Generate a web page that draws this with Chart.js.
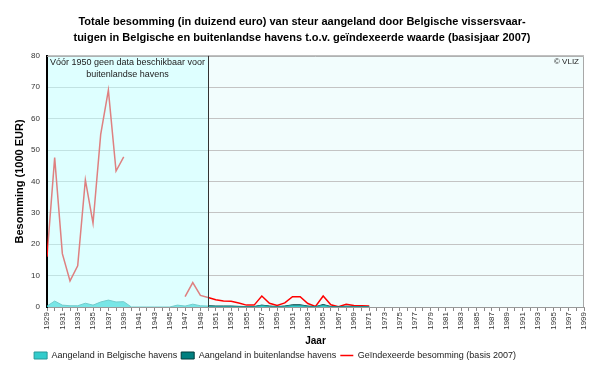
<!DOCTYPE html>
<html>
<head>
<meta charset="utf-8">
<script src="https://cdn.jsdelivr.net/npm/chart.js@4.4.0/dist/chart.umd.min.js"></script>
<style>
  html, body { margin: 0; padding: 0; background: #fff; }
</style>
</head>
<body>
<canvas id="myChart" width="600" height="368"></canvas>
<script>
// Data

let years = [
  1929, 1930, 1931, 1932, 1933, 1934, 1935, 1936, 1937, 1938, 1939, 1940,
  1941, 1942, 1943, 1944, 1945, 1946, 1947, 1948, 1949, 1950, 1951, 1952,
  1953, 1954, 1955, 1956, 1957, 1958, 1959, 1960, 1961, 1962, 1963, 1964,
  1965, 1966, 1967, 1968, 1969, 1970, 1971, 1972, 1973, 1974, 1975, 1976,
  1977, 1978, 1979, 1980, 1981, 1982, 1983, 1984, 1985, 1986, 1987, 1988,
  1989, 1990, 1991, 1992, 1993, 1994, 1995, 1996, 1997, 1998, 1999,
];

// Aangeland in Belgische havens (1000 EUR)
let belgischeHavens = [
  0.3, 1.9, 0.6, 0.4, 0.4, 1.2, 0.6, 1.6, 2.2, 1.6, 1.7, 0,
  0, 0, 0, 0, 0, 0.6, 0.3, 0.9, 0.4, 0.3, 0.2, 0.2,
  0.2, 0.1, 0.1, 0.1, 0.5, 0.2, 0.1, 0.2, 0.5, 0.5, 0.2, 0.05,
  0.6, 0.1, 0.02, 0.15, 0.1, 0.08, 0.05, null, null, null, null, null,
  null, null, null, null, null, null, null, null, null, null, null, null,
  null, null, null, null, null, null, null, null, null, null, null,
];

// Aangeland in buitenlandse havens (1000 EUR), geen data voor 1950
let buitenlandseHavens = [
  null, null, null, null, null, null, null, null, null, null, null, null,
  null, null, null, null, null, null, null, null, null, 0.1, 0.1, 0.1,
  0.1, 0.1, 0.05, 0.05, 0.1, 0.1, 0.05, 0.1, 0.2, 0.2, 0.1, 0.05,
  0.2, 0.05, 0.02, 0.1, 0.05, 0.05, 0.05, null, null, null, null, null,
  null, null, null, null, null, null, null, null, null, null, null, null,
  null, null, null, null, null, null, null, null, null, null, null,
];

// Geindexeerde besomming (basis 2007)
let geindexeerd = [
  16, 47.6, 17, 8.3, 13.1, 40.5, 26.7, 55, 69.1, 43.3, 47.8, null,
  null, null, null, null, null, null, 3.3, 7.8, 3.7, 3.0, 2.3, 1.9,
  1.8, 1.3, 0.6, 0.6, 3.5, 1.2, 0.5, 1.3, 3.3, 3.3, 1.1, 0.2,
  3.5, 0.7, 0.1, 0.9, 0.5, 0.4, 0.3, null, null, null, null, null,
  null, null, null, null, null, null, null, null, null, null, null, null,
  null, null, null, null, null, null, null, null, null, null, null,
];

let grensJaar = 1950;

let fontFamily = '"Liberation Sans", Arial, sans-serif';

// Background, shading before 1950 and notes

let plotBackground = {
  id: 'plotBackground',
  afterLayout(chart) {
    // legend a bit left of centre, title a bit right, as in the original
    chart.legend.left -= 17;
    chart.legend.right -= 17;
    chart.titleBlock.left += 10;
    chart.titleBlock.right += 10;
  },
  beforeDraw(chart) {
    let c = chart.ctx;
    let a = chart.chartArea;
    let split = chart.scales.x.getPixelForValue(grensJaar);
    c.save();
    c.fillStyle = '#ffffff';
    c.fillRect(a.left, a.top, split - a.left, a.bottom - a.top);
    c.fillStyle = '#f2fdfd';
    c.fillRect(split, a.top, a.right - split, a.bottom - a.top);
    c.restore();
  },
  afterDatasetsDraw(chart) {
    let c = chart.ctx;
    let a = chart.chartArea;
    let split = chart.scales.x.getPixelForValue(grensJaar);
    c.save();
    // light cyan veil over the years without foreign data
    c.fillStyle = 'rgba(190, 255, 255, 0.5)';
    c.fillRect(a.left + 1, a.top, split - a.left - 1, a.bottom - a.top);
    // border
    c.strokeStyle = '#a8a8a8';
    c.lineWidth = 1;
    c.beginPath();
    c.moveTo(a.left, a.top + 0.5);
    c.lineTo(a.right - 0.5, a.top + 0.5);
    c.lineTo(a.right - 0.5, a.bottom);
    c.stroke();
    // line at 1950
    c.strokeStyle = '#333333';
    c.beginPath();
    c.moveTo(Math.round(split) + 0.5, a.top);
    c.lineTo(Math.round(split) + 0.5, a.bottom);
    c.stroke();
    c.restore();
  },
  afterDraw(chart) {
    let c = chart.ctx;
    let a = chart.chartArea;
    let split = chart.scales.x.getPixelForValue(grensJaar);
    c.save();
    c.fillStyle = '#222222';
    c.font = '9px ' + fontFamily;
    c.textAlign = 'center';
    c.textBaseline = 'middle';
    c.fillText('Vóór 1950 geen data beschikbaar voor', (a.left + split) / 2, a.top + 7);
    c.fillText('buitenlandse havens', (a.left + split) / 2, a.top + 19);
    c.font = '8px ' + fontFamily;
    c.textAlign = 'right';
    c.fillText('© VLIZ', a.right - 5, a.top + 6);
    c.restore();
  },
};

let ctx = document.getElementById('myChart').getContext('2d');
let myChart = new Chart(ctx, {
  type: 'line',
  data: {
    labels: years,
    datasets: [
      {
        label: 'Aangeland in Belgische havens',
        data: belgischeHavens,
        stack: 'aanvoer',
        fill: 'origin',
        backgroundColor: '#33cccc',
        borderColor: '#269999',
        borderWidth: 1,
        pointRadius: 0,
        pointStyle: 'rect',
        tension: 0,
      },
      {
        label: 'Aangeland in buitenlandse havens',
        data: buitenlandseHavens,
        stack: 'aanvoer',
        fill: '-1',
        backgroundColor: '#008080',
        borderColor: '#003c3c',
        borderWidth: 1,
        pointRadius: 0,
        pointStyle: 'rect',
        tension: 0,
      },
      {
        label: 'Geïndexeerde besomming (basis 2007)',
        data: geindexeerd,
        stack: 'index',
        fill: false,
        borderColor: '#ff0000',
        backgroundColor: '#ff0000',
        borderWidth: 1.5,
        pointRadius: 0,
        pointStyle: 'line',
        spanGaps: false,
        tension: 0,
      },
    ],
  },
  options: {
    responsive: false,
    animation: false,
    layout: { padding: { left: 0, right: 16, top: 0, bottom: -2 } },
    plugins: {
      title: {
        display: true,
        text: [
          'Totale besomming (in duizend euro) van steur aangeland door Belgische vissersvaar-',
          'tuigen in Belgische en buitenlandse havens t.o.v. geïndexeerde waarde (basisjaar 2007)',
        ],
        color: '#000',
        font: { family: fontFamily, size: 11, weight: 'bold', lineHeight: 1.45 },
        padding: { top: 14, bottom: 10 },
      },
      legend: {
        position: 'bottom',
        labels: {
          usePointStyle: true,
          pointStyleWidth: 13,
          boxHeight: 7,
          padding: 4,
          color: '#222',
          font: { family: fontFamily, size: 9 },
        },
      },
      tooltip: { enabled: false },
    },
    scales: {
      x: {
        type: 'linear',
        min: 1929,
        max: 1999,
        ticks: {
          stepSize: 1,
          autoSkip: false,
          minRotation: 90,
          maxRotation: 90,
          padding: 1,
          color: '#333',
          font: { family: fontFamily, size: 8 },
          callback: (v) => ((v - 1929) % 2 === 0 ? String(v) : ''),
        },
        grid: { drawOnChartArea: false, tickLength: 4, color: '#888' },
        border: { color: '#999' },
        title: {
          display: true,
          text: 'Jaar',
          color: '#000',
          font: { family: fontFamily, size: 10, weight: 'bold' },
          padding: 0,
        },
        afterFit: (scale) => {
          scale.height = 40;
        },
      },
      y: {
        min: 0,
        max: 80,
        stacked: true,
        ticks: {
          stepSize: 10,
          padding: 7,
          color: '#333',
          font: { family: fontFamily, size: 8 },
        },
        grid: { color: '#c4c4c4', drawTicks: false },
        border: { color: '#000', width: 2 },
        title: {
          display: true,
          text: 'Besomming (1000 EUR)',
          color: '#000',
          font: { family: fontFamily, size: 11, weight: 'bold' },
          padding: { top: 13, bottom: 0 },
        },
        afterFit: (scale) => {
          scale.width = 47;
        },
      },
    },
  },
  plugins: [plotBackground],
});
</script>
</body>
</html>
